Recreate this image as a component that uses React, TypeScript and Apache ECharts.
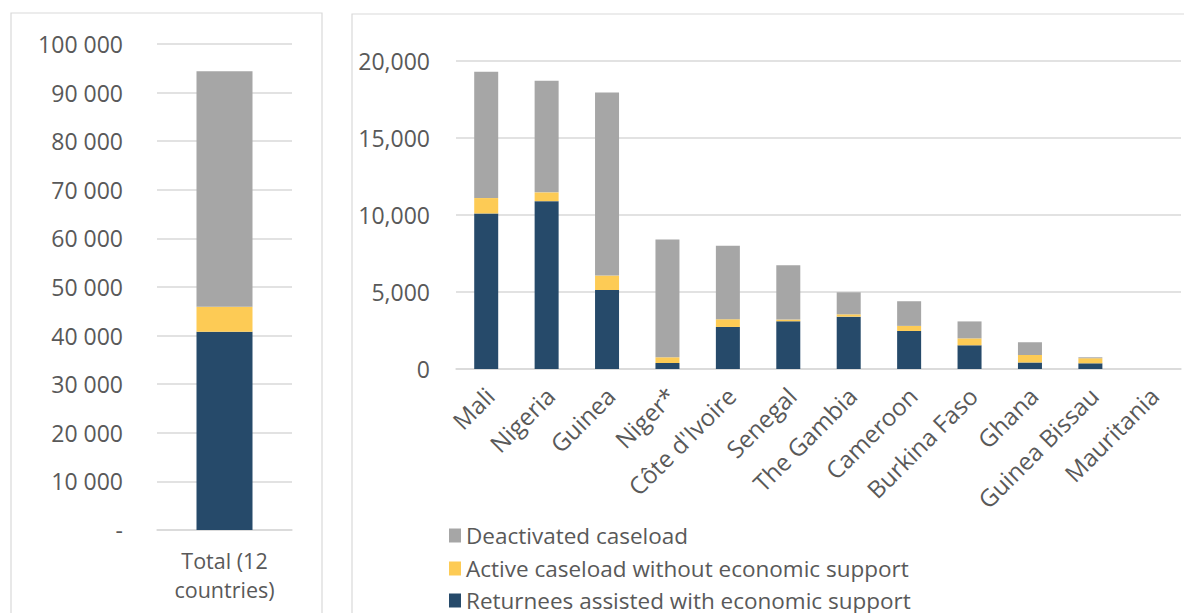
import React, { useEffect, useRef } from "react";
import * as echarts from "echarts";

const totalCategory = ["Total (12\ncountries)"];
const totalReturnees = [40800];
const totalActive = [5150];
const totalDeactivated = [48450];

const countries = [
  "Mali", "Nigeria", "Guinea", "Niger*", "Côte d'Ivoire", "Senegal",
  "The Gambia", "Cameroon", "Burkina Faso", "Ghana", "Guinea Bissau", "Mauritania",
];
const returnees = [10100, 10900, 5130, 390, 2730, 3100, 3400, 2470, 1540, 430, 370, 0];
const activeNoSupport = [1000, 570, 940, 370, 500, 110, 150, 330, 450, 480, 330, 0];
const deactivated = [8200, 7250, 11880, 7650, 4770, 3530, 1430, 1600, 1100, 820, 60, 0];

const leftTicks = { min: 0, max: 100000, interval: 10000 };
const rightTicks = { min: 0, max: 20000, interval: 5000 };

const NAME_DEACT = "Deactivated caseload";
const NAME_ACTIVE = "Active caseload without economic support";
const NAME_RET = "Returnees assisted with economic support";
const legendOrder = [NAME_DEACT, NAME_ACTIVE, NAME_RET];

const C_NAVY = "#264a6a";
const C_YELLOW = "#fdcb55";
const C_GREY = "#a6a6a6";
const TXT = "#595959";
const GRID = "#d9d9d9";
const FONT = "Open Sans";

export default function App() {
  const ref = useRef<HTMLDivElement>(null);
  useEffect(() => {
    if (!ref.current) return;
    const chart = echarts.init(ref.current, undefined, { renderer: "svg" });
    const axisLabelBase = { color: TXT, fontFamily: FONT, fontSize: 23 };
    const legendTops = [524, 557, 589];
    chart.setOption({
      animation: false,
      graphic: [
        { type: "rect", shape: { x: 11, y: 13, width: 311, height: 640 }, style: { fill: "none", stroke: GRID, lineWidth: 1.2 }, silent: true },
        { type: "rect", shape: { x: 352, y: 14, width: 900, height: 640 }, style: { fill: "none", stroke: GRID, lineWidth: 1.2 }, silent: true },
      ],
      legend: legendOrder.map((name, i) => ({
        data: [name],
        orient: "vertical",
        left: 449,
        top: legendTops[i],
        padding: 0,
        itemWidth: 12,
        itemHeight: 14,
        icon: "rect",
        textStyle: { color: TXT, fontFamily: FONT, fontSize: 22.5, lineHeight: 22 },
      })),
      grid: [
        { left: 157, top: 44, width: 135, height: 486 },
        { left: 456, top: 61, width: 725, height: 308 },
      ],
      xAxis: [
        {
          gridIndex: 0, type: "category", data: totalCategory,
          axisLine: { lineStyle: { color: GRID, width: 1.5 } }, axisTick: { show: false },
          axisLabel: { ...axisLabelBase, fontSize: 21.5, margin: 16, lineHeight: 29 },
        },
        {
          gridIndex: 1, type: "category", data: countries,
          axisLine: { lineStyle: { color: GRID, width: 1.5 } }, axisTick: { show: false },
          axisLabel: { ...axisLabelBase, fontSize: 24, rotate: 45, margin: 26, interval: 0, padding: [0, -5, 0, 0] },
        },
      ],
      yAxis: [
        {
          gridIndex: 0, type: "value", ...leftTicks,
          axisLine: { show: false }, axisTick: { show: false },
          splitLine: { lineStyle: { color: GRID, width: 1.5 } },
          axisLabel: {
            ...axisLabelBase, margin: 34,
            formatter: (v: number) => (v === 0 ? "-" : String(v).replace(/\B(?=(\d{3})+(?!\d))/g, " ")),
          },
        },
        {
          gridIndex: 1, type: "value", ...rightTicks,
          axisLine: { show: false }, axisTick: { show: false },
          splitLine: { lineStyle: { color: GRID, width: 1.5 } },
          axisLabel: {
            ...axisLabelBase, margin: 26,
            formatter: (v: number) => String(v).replace(/\B(?=(\d{3})+(?!\d))/g, ","),
          },
        },
      ],
      series: [
        { name: NAME_RET, type: "bar", stack: "L", xAxisIndex: 0, yAxisIndex: 0, data: totalReturnees, barWidth: 56, itemStyle: { color: C_NAVY } },
        { name: NAME_ACTIVE, type: "bar", stack: "L", xAxisIndex: 0, yAxisIndex: 0, data: totalActive, barWidth: 56, itemStyle: { color: C_YELLOW } },
        { name: NAME_DEACT, type: "bar", stack: "L", xAxisIndex: 0, yAxisIndex: 0, data: totalDeactivated, barWidth: 56, itemStyle: { color: C_GREY } },
        { name: NAME_RET, type: "bar", stack: "R", xAxisIndex: 1, yAxisIndex: 1, data: returnees, barWidth: 24, itemStyle: { color: C_NAVY } },
        { name: NAME_ACTIVE, type: "bar", stack: "R", xAxisIndex: 1, yAxisIndex: 1, data: activeNoSupport, barWidth: 24, itemStyle: { color: C_YELLOW } },
        { name: NAME_DEACT, type: "bar", stack: "R", xAxisIndex: 1, yAxisIndex: 1, data: deactivated, barWidth: 24, itemStyle: { color: C_GREY } },
      ],
    });
    return () => chart.dispose();
  }, []);
  return (
    <div
      ref={ref}
      style={{ position: "absolute", left: 0, top: 0, width: 1184, height: 613, background: "#fff" }}
    />
  );
}
